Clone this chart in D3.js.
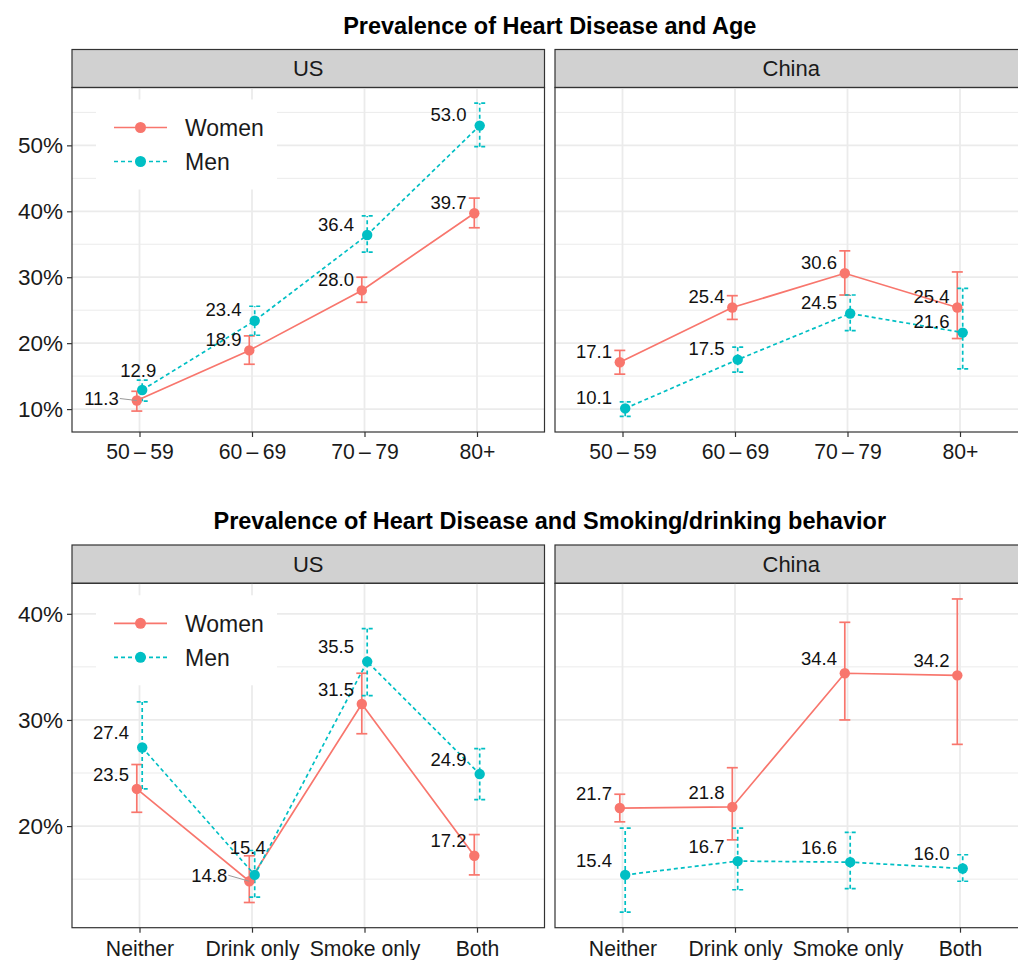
<!DOCTYPE html>
<html>
<head>
<meta charset="utf-8">
<script src="https://cdn.jsdelivr.net/npm/d3@7"></script>
<style>
  body { margin: 0; background: #fff; }
  svg { display: block; font-family: "Liberation Sans", Arial, Helvetica, sans-serif; }
</style>
</head>
<body>
<svg id="chart" width="1018" height="960"></svg>
<script>
// ---- data ----
const countries = ['US', 'China']
const sexes = ['Women', 'Men']
const ageGroups = ['50\u2009\u2013\u200959', '60\u2009\u2013\u200969', '70\u2009\u2013\u200979', '80+']
const behaviors = ['Neither', 'Drink only', 'Smoke only', 'Both']

// age chart: value, lower and upper bound (%)
const ageUSWomen = [11.3, 18.9, 28.0, 39.7]
const ageUSWomenLow = [9.7, 16.8, 26.2, 37.5]
const ageUSWomenHigh = [12.7, 21.1, 30.0, 42.0]
const ageUSMen = [12.9, 23.4, 36.4, 53.0]
const ageUSMenLow = [11.2, 21.2, 33.8, 49.8]
const ageUSMenHigh = [14.4, 25.6, 39.3, 56.4]
const ageChinaWomen = [17.1, 25.4, 30.6, 25.4]
const ageChinaWomenLow = [15.3, 23.6, 27.3, 20.7]
const ageChinaWomenHigh = [18.9, 27.2, 34.0, 30.8]
const ageChinaMen = [10.1, 17.5, 24.5, 21.6]
const ageChinaMenLow = [8.9, 15.6, 21.9, 16.1]
const ageChinaMenHigh = [11.1, 19.4, 27.3, 28.3]

// smoking / drinking chart
const behUSWomen = [23.5, 14.8, 31.5, 17.2]
const behUSWomenLow = [21.3, 12.8, 28.7, 15.4]
const behUSWomenHigh = [25.8, 17.2, 34.4, 19.2]
const behUSMen = [27.4, 15.4, 35.5, 24.9]
const behUSMenLow = [23.5, 13.3, 32.3, 22.5]
const behUSMenHigh = [31.7, 17.7, 38.6, 27.3]
const behChinaWomen = [21.7, 21.8, 34.4, 34.2]
const behChinaWomenLow = [20.4, 18.7, 30.0, 27.7]
const behChinaWomenHigh = [23.0, 25.5, 39.2, 41.4]
const behChinaMen = [15.4, 16.7, 16.6, 16.0]
const behChinaMenLow = [11.9, 14.0, 14.1, 14.8]
const behChinaMenHigh = [19.8, 19.8, 19.4, 17.3]

// ---- layout / style ----
const colors = { Women: '#F8766D', Men: '#00BFC4' }
const dashes = { Women: null, Men: '4,3' }
const panelX = { US: [72, 544.5], China: [555, 1027.5] }
const plotCenter = (72 + 1027.5) / 2
const svg = d3.select('#chart')

function buildRows(cats, sets) {
  const rows = []
  for (const country of countries) {
    for (const sex of sexes) {
      const [vals, lows, highs] = sets[country][sex]
      cats.forEach((c, i) => rows.push({ country, sex, cat: c, v: vals[i], lo: lows[i], hi: highs[i] }))
    }
  }
  return rows
}

const charts = [
  {
    title: 'Prevalence of Heart Disease and Age',
    titleY: 34, stripTop: 49.5, top: 87.5, bottom: 432, tickY: 459, nudge: 11,
    cats: ageGroups,
    rows: buildRows(ageGroups, {
      US: { Women: [ageUSWomen, ageUSWomenLow, ageUSWomenHigh], Men: [ageUSMen, ageUSMenLow, ageUSMenHigh] },
      China: { Women: [ageChinaWomen, ageChinaWomenLow, ageChinaWomenHigh], Men: [ageChinaMen, ageChinaMenLow, ageChinaMenHigh] }
    })
  },
  {
    title: 'Prevalence of Heart Disease and Smoking/drinking behavior',
    titleY: 529, stripTop: 545, top: 583.3, bottom: 927.7, tickY: 956, nudge: 15,
    cats: behaviors,
    rows: buildRows(behaviors, {
      US: { Women: [behUSWomen, behUSWomenLow, behUSWomenHigh], Men: [behUSMen, behUSMenLow, behUSMenHigh] },
      China: { Women: [behChinaWomen, behChinaWomenLow, behChinaWomenHigh], Men: [behChinaMen, behChinaMenLow, behChinaMenHigh] }
    })
  }
]

// labels that ggrepel pushed away from the default spot
function labelSpot(chartIdx, d, px, py, x, nudge) {
  const key = `${chartIdx}|${d.country}|${d.sex}|${d.cat}`
  switch (key) {
    case `0|US|Women|${ageGroups[0]}`: return { x: px - 18, y: py - 2, anchor: 'end', seg: true }
    case `0|US|Men|${ageGroups[0]}`: return { x: px - 4, y: py - 20, anchor: 'middle' }
    case '1|US|Men|Drink only': return { x: px - 7, y: py - 28, anchor: 'middle' }
    case '1|US|Women|Drink only': return { x: px - 22, y: py - 6, anchor: 'end', seg: true }
  }
  return { x: x - 10.5, y: py - nudge, anchor: 'end' }
}

function drawChart(chart, idx) {
  const lo = d3.min(chart.rows, d => d.lo)
  const hi = d3.max(chart.rows, d => d.hi)
  const pad = (hi - lo) * 0.05
  const y = d3.scaleLinear().domain([lo - pad, hi + pad]).range([chart.bottom, chart.top])
  const majors = y.ticks(5).filter(t => t % 10 === 0)
  const minors = d3.range(5, 100, 10).filter(t => t > y.domain()[0] && t < y.domain()[1])

  svg.append('text')
    .attr('x', plotCenter).attr('y', chart.titleY)
    .attr('text-anchor', 'middle')
    .attr('font-size', 23.5).attr('font-weight', 'bold')
    .text(chart.title)

  for (const country of countries) {
    const [x0, x1] = panelX[country]
    const x = d3.scalePoint().domain(chart.cats).range([x0, x1]).padding(0.6)
    const dodge = x.step() * 0.024
    const px = d => x(d.cat) + (d.sex === 'Women' ? -dodge : dodge)
    const g = svg.append('g')

    // strip
    g.append('rect')
      .attr('x', x0).attr('y', chart.stripTop)
      .attr('width', x1 - x0).attr('height', chart.top - chart.stripTop)
      .attr('fill', '#D1D1D1').attr('stroke', '#333').attr('stroke-width', 1.2)
    g.append('text')
      .attr('x', (x0 + x1) / 2).attr('y', (chart.stripTop + chart.top) / 2)
      .attr('dy', '0.36em').attr('text-anchor', 'middle')
      .attr('font-size', 22).attr('fill', '#1a1a1a')
      .text(country)

    // grid
    g.selectAll('.minor').data(minors).enter().append('line')
      .attr('x1', x0).attr('x2', x1)
      .attr('y1', d => y(d)).attr('y2', d => y(d))
      .attr('stroke', '#EBEBEB').attr('stroke-width', 1)
    g.selectAll('.major').data(majors).enter().append('line')
      .attr('x1', x0).attr('x2', x1)
      .attr('y1', d => y(d)).attr('y2', d => y(d))
      .attr('stroke', '#EBEBEB').attr('stroke-width', 1.8)
    g.selectAll('.vgrid').data(chart.cats).enter().append('line')
      .attr('x1', d => x(d)).attr('x2', d => x(d))
      .attr('y1', chart.top).attr('y2', chart.bottom)
      .attr('stroke', '#EBEBEB').attr('stroke-width', 1.8)

    // x axis
    const xAxis = g.append('g').attr('transform', `translate(0,${chart.bottom})`)
      .call(d3.axisBottom(x).tickSize(5).tickSizeOuter(0))
    xAxis.select('.domain').remove()
    xAxis.selectAll('line').attr('stroke', '#333').attr('stroke-width', 1.2)
    xAxis.selectAll('text').attr('font-size', 21.2).attr('fill', '#1a1a1a')
      .attr('y', chart.tickY - chart.bottom).attr('dy', null)

    // y axis only on the left facet
    if (country === 'US') {
      const yAxis = g.append('g').attr('transform', `translate(${x0},0)`)
        .call(d3.axisLeft(y).tickValues(majors).tickSize(5).tickSizeOuter(0).tickFormat(d => d + '%'))
      yAxis.select('.domain').remove()
      yAxis.selectAll('line').attr('stroke', '#333').attr('stroke-width', 1.2)
      yAxis.selectAll('text').attr('font-size', 22.5).attr('fill', '#1a1a1a').attr('x', -9)
    }

    const rows = chart.rows.filter(d => d.country === country)

    // error bars
    const eb = g.selectAll('.eb').data(rows).enter().append('g')
      .attr('stroke', d => colors[d.sex]).attr('stroke-width', 1.7)
      .attr('stroke-dasharray', d => dashes[d.sex])
    eb.append('line')
      .attr('x1', px).attr('x2', px)
      .attr('y1', d => y(d.lo)).attr('y2', d => y(d.hi))
    eb.append('line')
      .attr('x1', d => px(d) - 5.5).attr('x2', d => px(d) + 5.5)
      .attr('y1', d => y(d.lo)).attr('y2', d => y(d.lo))
    eb.append('line')
      .attr('x1', d => px(d) - 5.5).attr('x2', d => px(d) + 5.5)
      .attr('y1', d => y(d.hi)).attr('y2', d => y(d.hi))

    // lines
    const line = d3.line().x(px).y(d => y(d.v))
    for (const sex of sexes) {
      g.append('path')
        .datum(rows.filter(d => d.sex === sex))
        .attr('d', line)
        .attr('fill', 'none')
        .attr('stroke', colors[sex]).attr('stroke-width', 1.7)
        .attr('stroke-dasharray', dashes[sex])
    }

    // points
    g.selectAll('.pt').data(rows).enter().append('circle')
      .attr('cx', px).attr('cy', d => y(d.v)).attr('r', 5.2)
      .attr('fill', d => colors[d.sex])

    // value labels
    for (const d of rows) {
      const s = labelSpot(idx, d, px(d), y(d.v), x(d.cat), chart.nudge)
      if (s.seg) {
        g.append('line')
          .attr('x1', s.x + 1).attr('y1', s.y)
          .attr('x2', px(d)).attr('y2', y(d.v))
          .attr('stroke', '#999').attr('stroke-width', 1)
      }
      g.append('text')
        .attr('x', s.x).attr('y', s.y).attr('dy', '0.36em')
        .attr('text-anchor', s.anchor)
        .attr('font-size', 18.5).attr('fill', '#111')
        .text(d.v.toFixed(1))
    }

    // panel border
    g.append('rect')
      .attr('x', x0).attr('y', chart.top)
      .attr('width', x1 - x0).attr('height', chart.bottom - chart.top)
      .attr('fill', 'none').attr('stroke', '#333').attr('stroke-width', 1.2)

    // legend inside the US facet
    if (country === 'US') {
      const lg = g.append('g').attr('transform', `translate(96,${chart.top + 12})`)
      lg.append('rect').attr('width', 181).attr('height', 90).attr('fill', '#fff')
      const item = lg.selectAll('.item').data(sexes).enter().append('g')
        .attr('transform', (d, i) => `translate(0,${28 + i * 34})`)
      item.append('line')
        .attr('x1', 18).attr('x2', 71)
        .attr('stroke', d => colors[d]).attr('stroke-width', 1.7)
        .attr('stroke-dasharray', d => dashes[d])
      item.append('circle').attr('cx', 44.5).attr('r', 5.5).attr('fill', d => colors[d])
      item.append('text')
        .attr('x', 89).attr('dy', '0.36em')
        .attr('font-size', 23).attr('fill', '#1a1a1a')
        .text(d => d)
    }
  }
}

charts.forEach(drawChart)
</script>
</body>
</html>
